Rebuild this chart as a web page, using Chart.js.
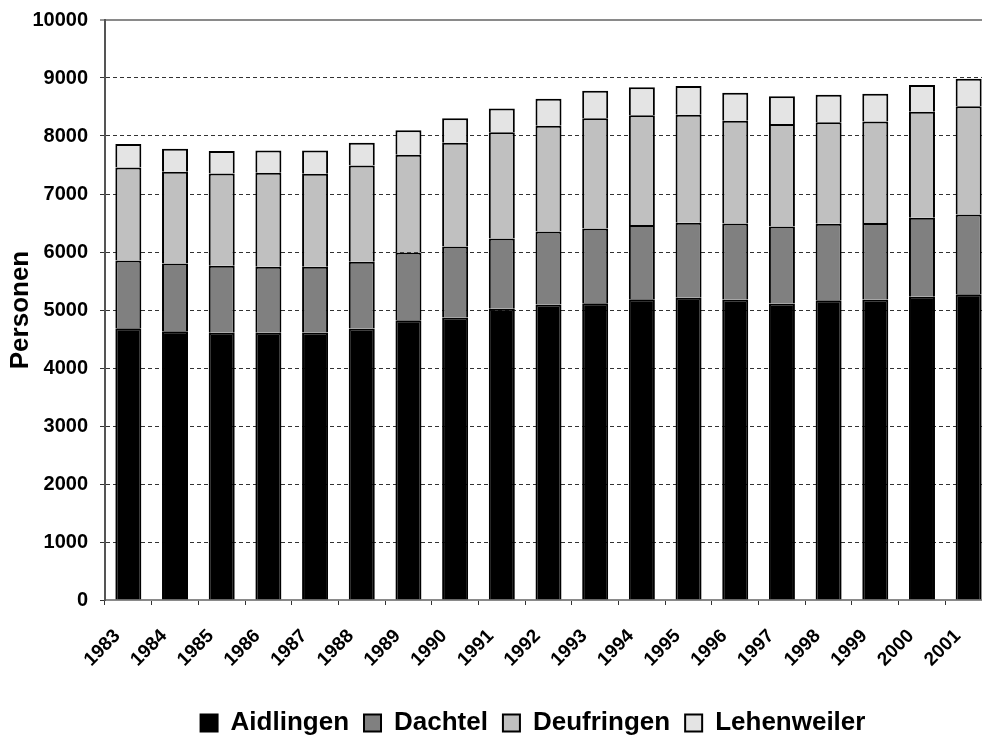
<!DOCTYPE html>
<html lang="de">
<head>
<meta charset="utf-8">
<title>Einwohner nach Ortsteilen</title>
<script src="https://cdn.jsdelivr.net/npm/chart.js@4/dist/chart.umd.min.js"></script>
<style>
  html, body { margin: 0; padding: 0; background: #ffffff; overflow: hidden; }
  #wrap { position: absolute; left: 0; top: 0; width: 1000px; height: 744px; }
  canvas { display: block; }
</style>
</head>
<body>
<div id="wrap"><canvas id="chart" width="1000" height="744"></canvas></div>
<script>
// Einwohner je Ortsteil, 1983 bis 2001
const years = ['1983', '1984', '1985', '1986', '1987', '1988', '1989', '1990', '1991', '1992',
               '1993', '1994', '1995', '1996', '1997', '1998', '1999', '2000', '2001'];

const aidlingen   = [4687, 4635, 4606, 4606, 4612, 4682, 4825, 4871, 5020, 5096,
                     5118, 5187, 5210, 5182, 5113, 5170, 5182, 5227, 5273];
const dachtel     = [1168, 1168, 1156, 1139, 1133, 1149, 1168, 1225, 1214, 1259,
                     1289, 1277, 1293, 1311, 1328, 1316, 1316, 1363, 1375];
const deufringen  = [1604, 1580, 1593, 1621, 1604, 1662, 1683, 1788, 1829, 1822,
                     1897, 1892, 1862, 1770, 1765, 1749, 1754, 1828, 1863];
const lehenweiler = [ 402,  397,  385,  386,  403,  390,  421,  420,  413,  466,
                      477,  483,  497,  483,  478,  477,  477,  461,  477];

const seriesNames = ['Aidlingen', 'Dachtel', 'Deufringen', 'Lehenweiler'];
const yTicks = { min: 0, max: 10000, step: 1000 };

const FONT = "'Liberation Sans', Arial, Helvetica, sans-serif";
const fills = ['#000000', '#808080', '#c0c0c0', '#e4e4e4'];

const datasets = [aidlingen, dachtel, deufringen, lehenweiler].map((values, i) => ({
  label: seriesNames[i],
  data: values,
  backgroundColor: fills[i],
  borderColor: '#000000',
  borderWidth: 2,
  categoryPercentage: 1.0,
  barPercentage: 0.557
}));

// centres the legend row under the chart and nudges it slightly lower
const legendShift = {
  id: 'legendShift',
  afterUpdate(chart) {
    const lg = chart.legend;
    if (!lg) return;
    const dx = 533 - (lg.left + lg.right) / 2;
    lg.left += dx;
    lg.right += dx;
    lg.top += 2;
    lg.bottom += 2;
    if (lg.adjustHitBoxes) lg.adjustHitBoxes();
  }
};

const isEdge = (v) => v === yTicks.min || v === yTicks.max;

new Chart(document.getElementById('chart'), {
  type: 'bar',
  data: { labels: years, datasets },
  plugins: [legendShift],
  options: {
    responsive: false,
    devicePixelRatio: 1,
    animation: false,
    layout: { padding: { top: 20, right: 8, left: 0, bottom: 0 } },
    plugins: {
      tooltip: { enabled: false },
      legend: {
        position: 'bottom',
        labels: {
          boxWidth: 17,
          boxHeight: 17,
          padding: 15,
          color: '#000000',
          font: { family: FONT, size: 26, weight: 'bold' }
        }
      }
    },
    scales: {
      x: {
        stacked: true,
        offset: true,
        afterFit(scale) {
          scale.height = 93;
          scale.paddingLeft = 0;
          scale.paddingRight = 0;
        },
        grid: {
          offset: true,
          drawOnChartArea: false,
          drawTicks: true,
          tickLength: 5,
          tickColor: '#333333',
          tickWidth: 1
        },
        border: { display: true, color: '#8a8a8a', width: 2 },
        ticks: {
          autoSkip: false,
          maxRotation: 45,
          minRotation: 45,
          padding: 20,
          labelOffset: -11,
          color: '#000000',
          font: { family: FONT, size: 19, weight: 'bold' }
        }
      },
      y: {
        stacked: true,
        min: yTicks.min,
        max: yTicks.max,
        afterFit(scale) {
          scale.width = 105;
          scale.paddingTop = 0;
          scale.paddingBottom = 0;
        },
        grid: {
          color: (ctx) => (ctx.tick && isEdge(ctx.tick.value)) ? '#8a8a8a' : '#333333',
          lineWidth: (ctx) => (ctx.tick && ctx.tick.value === yTicks.max) ? 2 : 1,
          drawTicks: true,
          tickLength: 5,
          tickColor: '#333333',
          tickWidth: 1
        },
        border: {
          display: true,
          color: '#555555',
          width: 2,
          dash: (ctx) => (ctx.tick && isEdge(ctx.tick.value)) ? [] : [4, 3]
        },
        ticks: {
          stepSize: yTicks.step,
          padding: 12,
          color: '#000000',
          font: { family: FONT, size: 20, weight: 'bold' },
          callback: (value) => String(value)
        },
        title: {
          display: true,
          text: 'Personen',
          color: '#000000',
          padding: { top: 5, bottom: 0 },
          font: { family: FONT, size: 26, weight: 'bold' }
        }
      }
    }
  }
});
</script>
</body>
</html>
